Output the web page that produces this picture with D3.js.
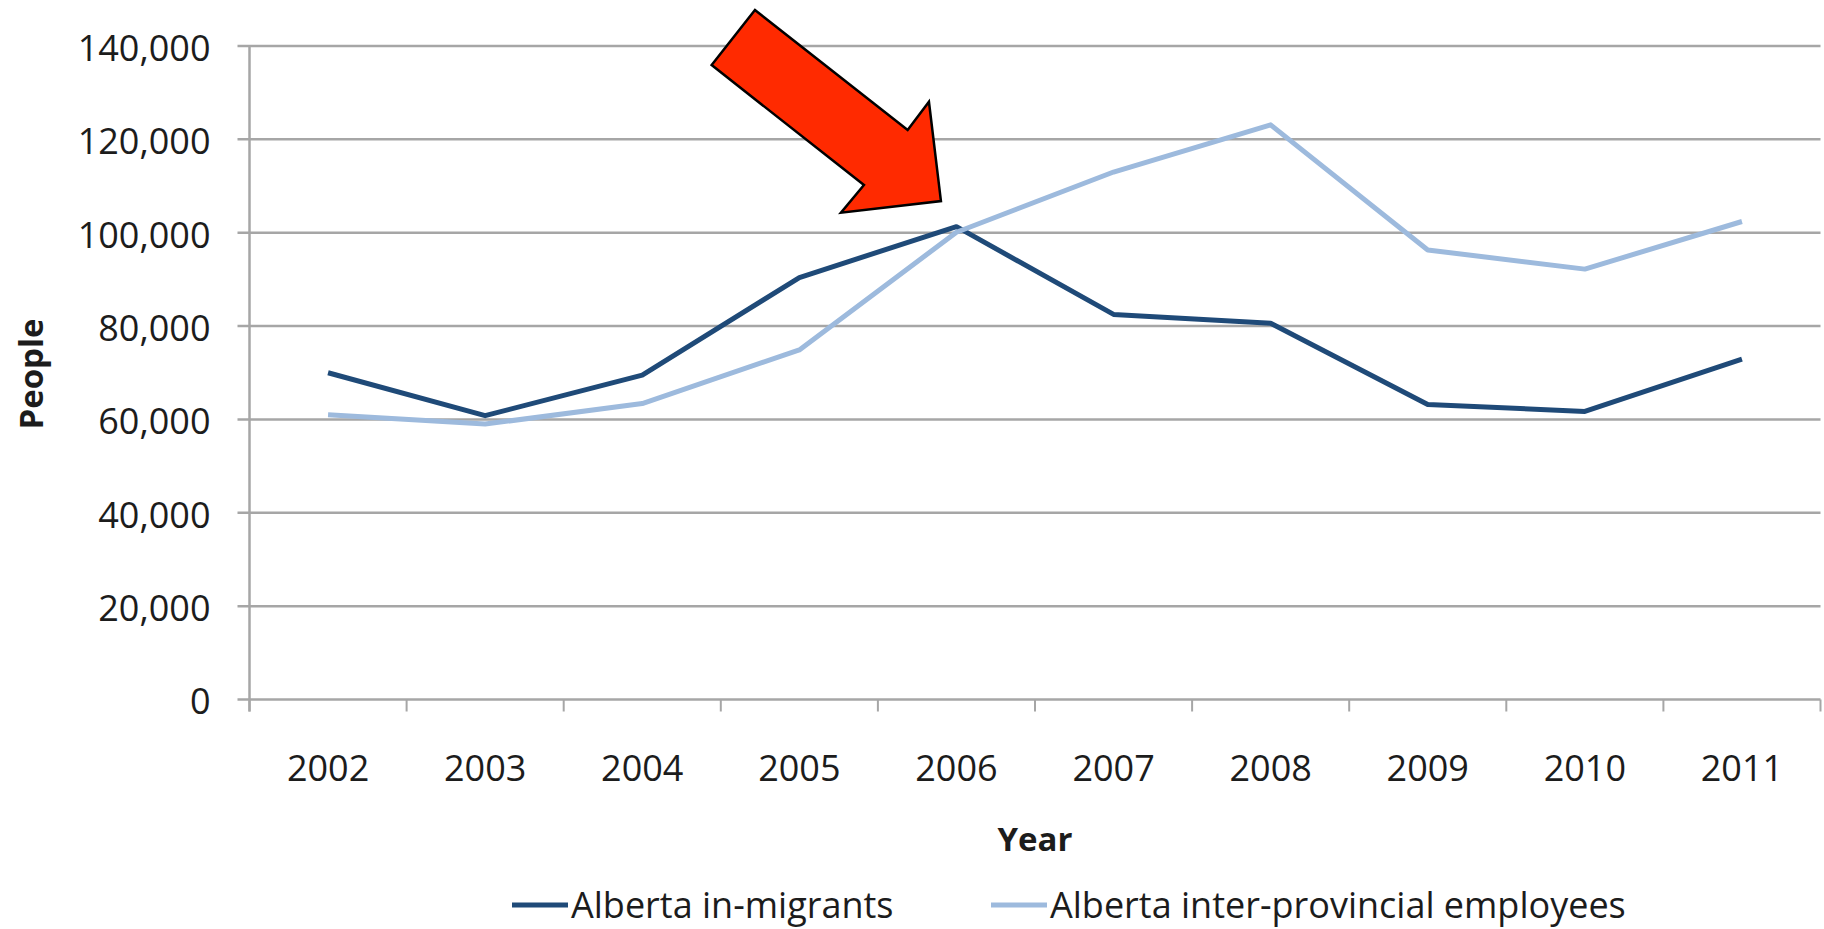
<!DOCTYPE html>
<html>
<head>
<meta charset="utf-8">
<script src="https://cdn.jsdelivr.net/npm/d3@7"></script>
<style>
  body { margin: 0; background: #fff; }
  svg { display: block; }
  text { font-family: "Open Sans", "DejaVu Sans", sans-serif; fill: #1c1c1c; }
</style>
</head>
<body>
<script>
// data
var years = ["2002", "2003", "2004", "2005", "2006", "2007", "2008", "2009", "2010", "2011"];
var inMigrants = [70000, 60800, 69500, 90400, 101300, 82500, 80600, 63200, 61700, 72900];
var interProvincial = [61000, 59000, 63400, 74900, 100100, 113000, 123100, 96300, 92200, 102400];
var yTicks = [0, 20000, 40000, 60000, 80000, 100000, 120000, 140000];
var seriesNames = ["Alberta in-migrants", "Alberta inter-provincial employees"];
var seriesColors = ["#1f4a78", "#9dbadd"];

// arrow outline, relative to the 2006 in-migrant point
var arrowShape = [[-201.5, -216.6], [-244.8, -161.6], [-92.5, -41.6], [-115.5, -13.9],
                  [-15.5, -25.6], [-27.5, -124.9], [-48.8, -96.6]];

var width = 1824, height = 929;
var plot = {left: 249.5, right: 1820.5, top: 46, bottom: 699.5};

var svg = d3.select("body").append("svg")
  .attr("width", width)
  .attr("height", height);

var x = d3.scaleBand()
  .domain(years)
  .range([plot.left, plot.right]);

var y = d3.scaleLinear()
  .domain([0, 140000])
  .range([plot.bottom, plot.top]);

var xMid = d => x(d) + x.bandwidth() / 2;

// horizontal grid lines (stick out left as tick marks)
svg.append("g")
  .selectAll("line")
  .data(yTicks)
  .enter()
  .append("line")
  .attr("x1", plot.left - 12)
  .attr("x2", plot.right)
  .attr("y1", d => y(d))
  .attr("y2", d => y(d))
  .style("stroke", "#a6a6a6")
  .style("stroke-width", 2.5);

// y axis line
svg.append("line")
  .attr("x1", plot.left).attr("x2", plot.left)
  .attr("y1", plot.top).attr("y2", plot.bottom + 12)
  .style("stroke", "#a6a6a6")
  .style("stroke-width", 2.5);

// y labels
var yAxis = d3.axisLeft(y).tickValues(yTicks).tickSize(0).tickPadding(39)
  .tickFormat(d3.format(","));
svg.append("g")
  .attr("transform", `translate(${plot.left},0)`)
  .call(yAxis)
  .call(g => g.select(".domain").remove())
  .selectAll("text")
  .attr("dy", "0.4em")
  .style("font-size", "36px")
  .style("font-family", null);

// x axis: tick marks sit between categories
var bounds = years.map(d => x(d)).concat([plot.right]);
svg.append("g")
  .selectAll("line")
  .data(bounds)
  .enter()
  .append("line")
  .attr("x1", d => d).attr("x2", d => d)
  .attr("y1", plot.bottom).attr("y2", plot.bottom + 12)
  .style("stroke", "#a6a6a6")
  .style("stroke-width", 2);

svg.append("g")
  .selectAll("text")
  .data(years)
  .enter()
  .append("text")
  .attr("x", d => xMid(d))
  .attr("y", 781)
  .attr("text-anchor", "middle")
  .style("font-size", "36px")
  .text(d => d);

// axis titles
svg.append("text")
  .attr("transform", "translate(43,374) rotate(-90)")
  .attr("text-anchor", "middle")
  .style("font-size", "33px")
  .style("font-weight", "bold")
  .text("People");

svg.append("text")
  .attr("x", 1035)
  .attr("y", 851)
  .attr("text-anchor", "middle")
  .style("font-size", "33px")
  .style("font-weight", "bold")
  .text("Year");

// lines
var line = d3.line()
  .x((d, i) => xMid(years[i]))
  .y(d => y(d));

[inMigrants, interProvincial].forEach(function (vals, i) {
  svg.append("path")
    .datum(vals)
    .attr("d", line)
    .style("fill", "none")
    .style("stroke", seriesColors[i])
    .style("stroke-width", 5)
    .style("stroke-linejoin", "round");
});

// red arrow pointing at the 2006 crossing
var ax = xMid("2006"), ay = y(inMigrants[4]);
svg.append("polygon")
  .attr("points", arrowShape.map(p => [ax + p[0], ay + p[1]].join(",")).join(" "))
  .style("fill", "#ff2a00")
  .style("stroke", "#000")
  .style("stroke-width", 2.5)
  .style("stroke-linejoin", "miter");

// legend
var legendX = [512, 991];
var legend = svg.append("g");
seriesNames.forEach(function (name, i) {
  legend.append("line")
    .attr("x1", legendX[i]).attr("x2", legendX[i] + 56)
    .attr("y1", 905).attr("y2", 905)
    .style("stroke", seriesColors[i])
    .style("stroke-width", 5);
  legend.append("text")
    .attr("x", legendX[i] + 59)
    .attr("y", 918)
    .style("font-size", "36px")
    .text(name);
});
</script>
</body>
</html>
